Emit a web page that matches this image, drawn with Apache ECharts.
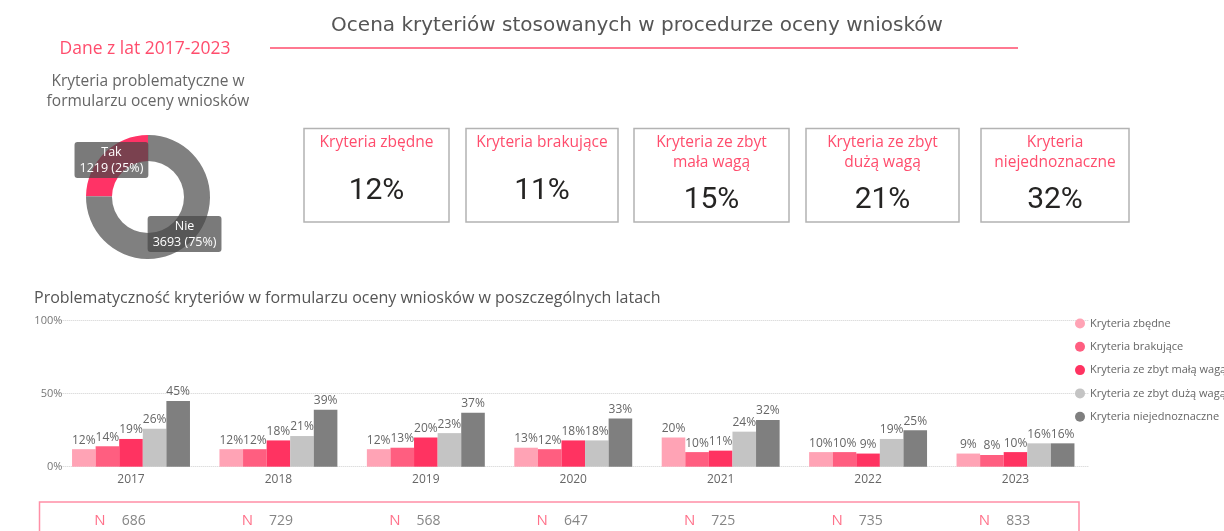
<!DOCTYPE html>
<html>
<head>
<meta charset="utf-8">
<title>Ocena kryteriów</title>
<script src="https://cdn.jsdelivr.net/npm/echarts@6/dist/echarts.min.js"></script>
<style>
  html, body { margin: 0; padding: 0; background: #fff; }
  #main { width: 1224px; height: 531px; }
</style>
</head>
<body>
<div id="main"></div>
<script>
// --- dane ---
var years = ['2017', '2018', '2019', '2020', '2021', '2022', '2023'];
var seriesNames = ['Kryteria zbędne', 'Kryteria brakujące', 'Kryteria ze zbyt małą wagą', 'Kryteria ze zbyt dużą wagą', 'Kryteria niejednoznaczne'];
var zbedne = [12, 12, 12, 13, 20, 10, 9];
var brakujace = [14, 12, 13, 12, 10, 10, 8];
var malaWaga = [19, 18, 20, 18, 11, 9, 10];
var duzaWaga = [26, 21, 23, 18, 24, 19, 16];
var niejednoznaczne = [45, 39, 37, 33, 32, 25, 16];
var nValues = [686, 729, 568, 647, 725, 735, 833];

var donutNames = ['Tak', 'Nie'];
var donutValues = [1219, 3693];

var cardTitles = ['Kryteria zbędne', 'Kryteria brakujące', 'Kryteria ze zbyt\nmała wagą', 'Kryteria ze zbyt\ndużą wagą', 'Kryteria\nniejednoznaczne'];
var cardValues = [12, 11, 15, 21, 32];

// --- wygląd ---
var pink = '#ff4d6d';
var barColors = ['#ffa3b5', '#ff5e80', '#ff3361', '#c4c4c4', '#7f7f7f'];
var font = 'Open Sans';

// kafelki (polozenie)
var cardLeft = [304, 466, 634, 806, 981];
var cardWidth = [145, 152, 155, 153, 148];

var graphic = [
  { type: 'text', style: { text: 'Ocena kryteriów stosowanych w procedurze oceny wniosków', x: 637, y: 26, align: 'center', verticalAlign: 'middle', fill: '#555', fontSize: 20, fontFamily: 'DejaVu Sans' } },
  { type: 'line', shape: { x1: 270, y1: 48, x2: 1018, y2: 48 }, style: { stroke: pink, lineWidth: 1.5 } },
  { type: 'text', style: { text: 'Dane z lat 2017-2023', x: 145, y: 49, align: 'center', verticalAlign: 'middle', fill: pink, fontSize: 17.5, fontFamily: font } },
  { type: 'text', style: { text: 'Kryteria problematyczne w\nformularzu oceny wniosków', x: 148, y: 92, align: 'center', verticalAlign: 'middle', fill: '#666', fontSize: 15.5, lineHeight: 20, fontFamily: font } },
  { type: 'text', style: { text: 'Problematyczność kryteriów w formularzu oceny wniosków w poszczególnych latach', x: 34, y: 298, align: 'left', verticalAlign: 'middle', fill: '#555', fontSize: 16, fontFamily: font } },
  { type: 'rect', shape: { x: 39.5, y: 502, width: 1039.5, height: 40 }, style: { fill: 'none', stroke: '#ff8fa6', lineWidth: 1.5 } }
];

// kafelki z procentami
cardTitles.forEach(function (t, i) {
  var cx = cardLeft[i] + cardWidth[i] / 2;
  var twoLines = t.indexOf('\n') >= 0;
  graphic.push({ type: 'rect', shape: { x: cardLeft[i], y: 128.5, width: cardWidth[i], height: 93.5 }, style: { fill: '#fff', stroke: '#b3b3b3', lineWidth: 1.5 } });
  graphic.push({ type: 'text', style: { text: t, x: cx, y: twoLines ? 153 : 143, align: 'center', verticalAlign: 'middle', fill: pink, fontSize: 15.5, lineHeight: 20, fontFamily: font } });
  graphic.push({ type: 'text', style: { text: cardValues[i] + '%', x: cx, y: twoLines ? 200 : 191, align: 'center', verticalAlign: 'middle', fill: '#252423', fontSize: 30, fontFamily: 'Roboto' } });
});

var barData = [zbedne, brakujace, malaWaga, duzaWaga, niejednoznaczne];
var series = barData.map(function (d, i) {
  return {
    name: seriesNames[i],
    type: 'bar',
    xAxisIndex: 0,
    yAxisIndex: 0,
    data: d,
    barGap: 0,
    barCategoryGap: '20%',
    itemStyle: { color: barColors[i] },
    label: { show: true, position: 'top', distance: 3, formatter: '{c}%', color: '#666', fontSize: 12, fontFamily: font },
    emphasis: { disabled: true }
  };
});

// wykres kołowy
series.push({
  type: 'pie',
  center: [148, 197],
  radius: [36, 62],
  clockwise: false,
  percentPrecision: 0,
  silent: true,
  data: donutNames.map(function (n, i) {
    return { name: n, value: donutValues[i], itemStyle: { color: i === 0 ? '#ff3366' : '#808080' } };
  }),
  label: {
    show: true,
    position: 'inside',
    formatter: '{b}\n{c} ({d}%)',
    color: '#fff',
    fontSize: 12.5,
    lineHeight: 16,
    fontFamily: font,
    backgroundColor: 'rgba(70,70,70,0.72)',
    borderRadius: 3,
    padding: [2, 5]
  },
  labelLine: { show: false }
});

// liczebnosc N
series.push({
  type: 'scatter',
  xAxisIndex: 1,
  yAxisIndex: 1,
  symbolSize: 1,
  itemStyle: { color: 'transparent' },
  silent: true,
  data: nValues.map(function (v, i) { return [years[i], 0, v]; }),
  label: {
    show: true,
    position: 'inside',
    offset: [-11, 3],
    formatter: function (p) { return '{n|N}{v|' + p.value[2] + '}'; },
    rich: {
      n: { color: pink, fontSize: 15, fontFamily: font, padding: [0, 16, 0, 0] },
      v: { color: '#666', fontSize: 14, fontFamily: font }
    }
  }
});

var option = {
  animation: false,
  backgroundColor: '#fff',
  textStyle: { fontFamily: font },
  graphic: graphic,
  legend: {
    data: seriesNames,
    orient: 'vertical',
    left: 1070,
    top: 313,
    icon: 'circle',
    itemWidth: 10,
    itemHeight: 10,
    itemGap: 12.3,
    selectedMode: false,
    textStyle: { color: '#666', fontSize: 11, fontFamily: font }
  },
  grid: [
    { left: 57.3, right: 134.8, top: 320.7, bottom: 64.3 },
    { left: 57.3, right: 134.8, top: 505, height: 30 }
  ],
  xAxis: [
    {
      type: 'category',
      gridIndex: 0,
      data: years,
      axisLine: { show: false },
      axisTick: { show: false },
      axisLabel: { color: '#666', fontSize: 12, margin: 7 }
    },
    { type: 'category', gridIndex: 1, data: years, show: false }
  ],
  yAxis: [
    {
      type: 'value',
      gridIndex: 0,
      min: 0,
      max: 100,
      interval: 50,
      axisLabel: { color: '#777', fontSize: 11, margin: -5, formatter: '{value}%' },
      splitLine: { lineStyle: { type: 'dotted', color: '#d0d0d0' } }
    },
    { type: 'value', gridIndex: 1, min: -1, max: 1, show: false }
  ],
  series: series
};

var myChart = echarts.init(document.getElementById('main'));
myChart.setOption(option);
</script>
</body>
</html>
